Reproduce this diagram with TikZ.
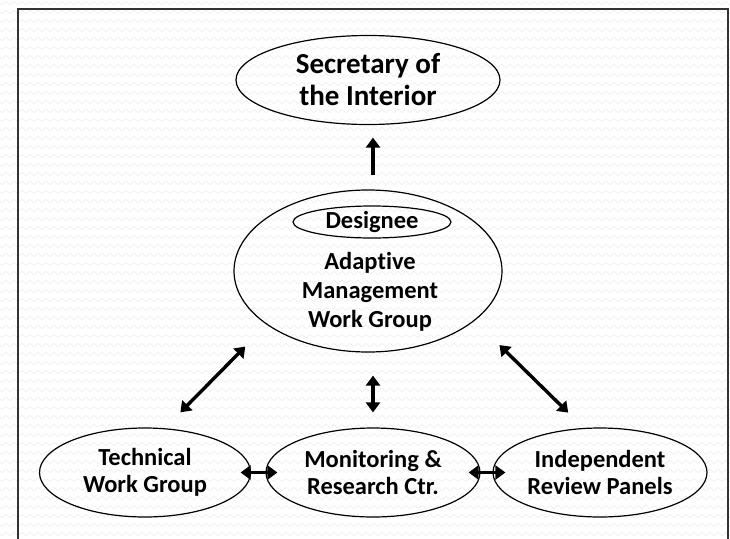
\documentclass[tikz,border=0pt]{standalone}
\usepackage{fontspec}
\setmainfont{Carlito}[Ligatures=NoCommon]
\usetikzlibrary{shapes.geometric,arrows.meta,decorations.pathmorphing}
\definecolor{wavecol}{RGB}{238,238,238}
\begin{document}
\begin{tikzpicture}[x=1pt,y=-1pt,
  oval/.style={ellipse,draw,line width=1.2pt,inner sep=0pt},
  lbl/.style={align=center,font=\bfseries\fontsize{24.5}{27}\selectfont,inner sep=0pt},
  biglbl/.style={align=center,font=\bfseries\fontsize{29}{32}\selectfont,inner sep=0pt},
  dbl/.style={line width=3.4pt,{Triangle[width=14pt,length=10pt]}-{Triangle[width=14pt,length=10pt]}},
  sgl/.style={line width=3.4pt,-{Triangle[width=14pt,length=10pt]}},
  wave/.style={draw=wavecol,line width=0.6pt,decorate,decoration={zigzag,segment length=8pt,amplitude=1.6pt}}]
\useasboundingbox (0,0) rectangle (730,538);
\clip (0,0) rectangle (730,538);
\fill[white] (0,0) rectangle (730,538);
\foreach \r in {0,...,60} { \draw[wave] (-4,\r*9+3) -- (740,\r*9+3); }
\draw[line width=1.5pt,draw=black!80] (18,540) -- (18,9) -- (728,9) -- (728,540);

\node[oval,biglbl,minimum width=264pt,minimum height=89pt] (sec) at (368,80) {Secretary of\\the Interior};
\node[oval,minimum width=268pt,minimum height=162pt] (amwg) at (368,271) {};
\node[lbl,font=\bfseries\fontsize{24.5}{29}\selectfont] (amwgtext) at (370,292) {Adaptive\\Management\\Work Group};
\node[oval,lbl,minimum width=158pt,minimum height=32pt] (des) at (372,222) {Designee};
\node[oval,lbl,minimum width=211pt,minimum height=89pt] (tech) at (145,472.5) {Technical\\Work Group};
\node[oval,lbl,minimum width=214pt,minimum height=89pt] (mon) at (373,472.5) {Monitoring \&\\Research Ctr.};
\node[oval,lbl,minimum width=214pt,minimum height=89pt] (ind) at (600,472.5) {Independent\\Review Panels};

\draw[sgl,shorten <=14pt,shorten >=12.5pt] ([xshift=5pt]amwg.north) -- ([xshift=5pt]sec.south);
\draw[dbl,shorten <=30.6pt,shorten >=22.3pt] (amwg.208.8) -- (tech.66.7);
\draw[dbl,shorten <=34.7pt,shorten >=21.8pt] (amwg.335.8) -- (ind.110.6);
\draw[dbl,shorten <=23pt,shorten >=15pt] (mon.north |- amwg.south) -- (mon.north);
\draw[dbl,shorten <=-10.5pt,shorten >=-12pt] (tech.east) -- (mon.west);
\draw[dbl,shorten <=-12pt,shorten >=-13pt] (mon.east) -- (ind.west);
\end{tikzpicture}
\end{document}
